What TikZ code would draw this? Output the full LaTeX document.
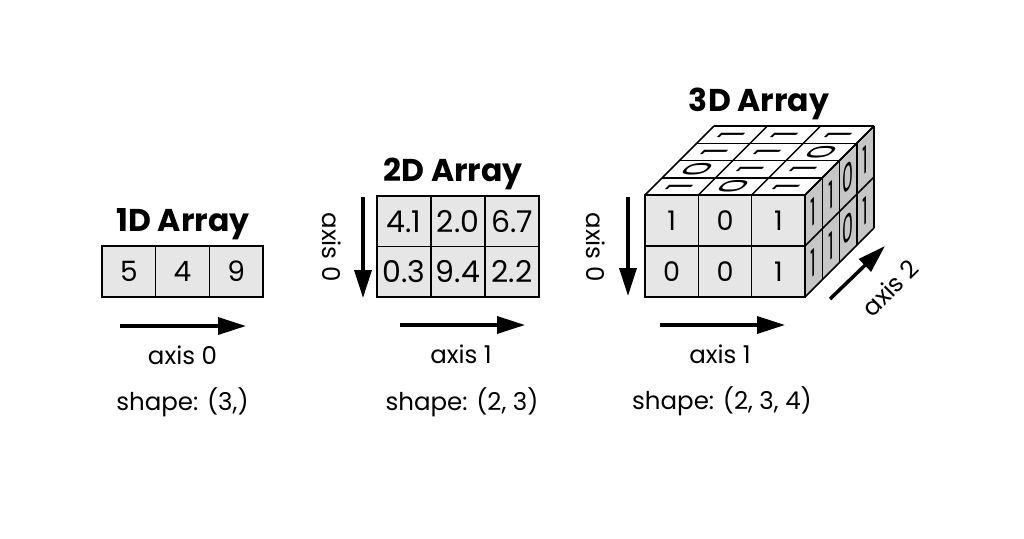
\documentclass[tikz,border=0pt]{standalone}
\usepackage{fontspec}
\setmainfont{Poppins}
\usetikzlibrary{arrows.meta}
\definecolor{cellgray}{HTML}{E6E6E6}
\definecolor{sidegray}{HTML}{C6C6C6}
\begin{document}
\begin{tikzpicture}[x=1pt,y=-1pt,
  gridline/.style={draw=black, line width=1.5pt},
  cell/.style={gridline, fill=cellgray, inner sep=0pt, minimum height=51pt,
    font=\fontsize{28}{28}\selectfont},
  cellw/.style={minimum width=53.67pt},
  title/.style={font=\fontsize{31.5}{33}\selectfont\bfseries, inner sep=0pt},
  lab/.style={font=\fontsize{24.5}{26}\selectfont, inner sep=0pt},
  axisarrow/.style={line width=3.5pt, -{Triangle[length=28pt,width=17pt]}},
  topglyph/.style={transform shape, cm={0.8,0.8,-1.15,0,(0,0)}, inner sep=0pt,
    font=\fontsize{29}{29}\selectfont},
  sideglyph/.style={transform shape, cm={0.6,0.6,0,1.3,(0,0)}, inner sep=0pt,
    font=\fontsize{29}{29}\selectfont},
]
\useasboundingbox (0,0) rectangle (1024,538);

% ---------- 1D ----------
\node[title] (t1) at (183,224) {1D Array};
\node[cell,cellw] (a0) at (128.8,271.5) {5};
\node[cell,cellw] (a1) at (182.5,271.5) {4};
\node[cell,cellw] (a2) at (236.2,271.5) {9};
\coordinate (s1a) at (120,326);
\coordinate (s1b) at (246,326);
\draw[axisarrow] (s1a) -- (s1b);
\node[lab] (l1a) at (182.5,355) {axis 0};
\node[lab] (l1b) at (182.5,402) {shape: (3,)};

% ---------- 2D ----------
\node[title] (t2) at (453,174) {2D Array};
\foreach \v [count=\i from 0] in {4.1,2.0,6.7} {
  \node[cell, minimum width=54pt, minimum height=50.5pt, font=\fontsize{30}{30}\selectfont] (b0\i) at ({404+54*\i},221.25) {\v};
}
\foreach \v [count=\i from 0] in {0.3,9.4,2.2} {
  \node[cell, minimum width=54pt, minimum height=50.5pt, font=\fontsize{30}{30}\selectfont] (b1\i) at ({404+54*\i},271.75) {\v};
}
\coordinate (v2a) at (363,197);
\coordinate (v2b) at (363,298);
\draw[axisarrow] (v2a) -- (v2b);
\node[lab, rotate=-90] (l2v) at (332,247) {axis 0};
\coordinate (h2a) at (400,325);
\coordinate (h2b) at (525,325);
\draw[axisarrow] (h2a) -- (h2b);
\node[lab] (l2a) at (461,354) {axis 1};
\node[lab] (l2b) at (462,402) {shape: (2, 3)};

% ---------- 3D ----------
\node[title] (t3) at (759,104) {3D Array};
% top and side faces
\fill[white] (645,195) -- (805,195) -- (874,126) -- (714,126) -- cycle;
\fill[sidegray] (805,195) -- (874,126) -- (874,228) -- (805,297) -- cycle;
\foreach \d in {0,...,4} {
  \draw[gridline] ({645+17.25*\d},{195-17.25*\d}) -- ({805+17.25*\d},{195-17.25*\d});
  \draw[gridline] ({805+17.25*\d},{195-17.25*\d}) -- ++(0,102);
}
\foreach \i in {0,...,3} {
  \draw[gridline] ({645+53.333*\i},195) -- ++(69,-69);
}
\foreach \j in {0,1,2} {
  \draw[gridline] (805,{195+51*\j}) -- ++(69,-69);
}
% front face
\foreach \v [count=\i from 0] in {1,0,1} {
  \node[cell, minimum width=53.33pt, font=\fontsize{27}{27}\selectfont] (c0\i) at ({671.67+53.333*\i},220.5) {\v};
}
\foreach \v [count=\i from 0] in {0,0,1} {
  \node[cell, minimum width=53.33pt, font=\fontsize{27}{27}\selectfont] (c1\i) at ({671.67+53.333*\i},271.5) {\v};
}
% top glyphs
\foreach \i/\d/\v in {0/0/1,1/0/0,2/0/1, 0/1/0,1/1/1,2/1/1, 0/2/1,1/2/1,2/2/0, 0/3/1,1/3/1,2/3/1} {
  \begin{scope}[shift={({645+53.333*(\i+0.5)+17.25*(\d+0.5)},{195-17.25*(\d+0.5)})}]
    \node[topglyph] (g\i\d) at (0,0) {\v};
  \end{scope}
}
% side glyphs
\foreach \j/\d/\v in {0/0/1,0/1/1,0/2/0,0/3/1, 1/0/1,1/1/1,1/2/0,1/3/1} {
  \begin{scope}[shift={({805+17.25*(\d+0.5)},{195+51*(\j+0.5)-17.25*(\d+0.5)})}]
    \node[sideglyph] (h\j\d) at (0,0) {\v};
  \end{scope}
}
\coordinate (v3a) at (628,197);
\coordinate (v3b) at (628,296);
\draw[axisarrow] (v3a) -- (v3b);
\node[lab, rotate=-90] (l3v) at (596,247) {axis 0};
\coordinate (h3a) at (660,325);
\coordinate (h3b) at (785,325);
\draw[axisarrow] (h3a) -- (h3b);
\node[lab] (l3a) at (720,354) {axis 1};
\node[lab] (l3b) at (722,401) {shape: (2, 3, 4)};
\coordinate (d3a) at (830,299);
\coordinate (d3b) at (885,246);
\draw[axisarrow] (d3a) -- (d3b);
\node[lab, rotate=45] (l3d) at (890,288) {axis 2};
\end{tikzpicture}
\end{document}
